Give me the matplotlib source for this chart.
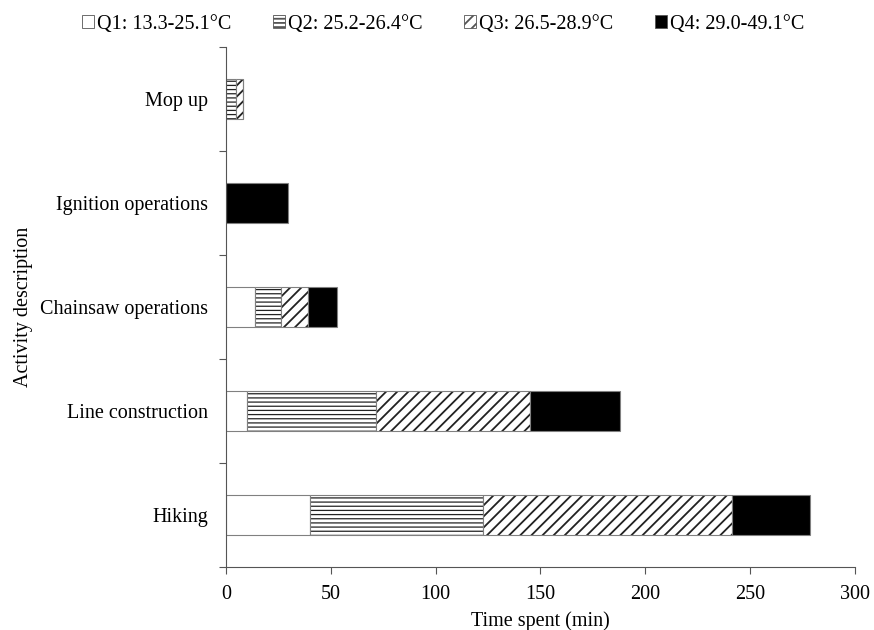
import numpy as np
import matplotlib.pyplot as plt
from matplotlib.patches import Patch

plt.rcParams["font.family"] = ["Liberation Serif", "DejaVu Serif"]
plt.rcParams["hatch.linewidth"] = 1.3

# time spent per activity in each temperature quartile (min)
activities = ["Hiking", "Line construction", "Chainsaw operations",
              "Ignition operations", "Mop up"]
q1 = [40.0, 10.0, 14.0, 0.0, 0.0]
q2 = [82.4, 61.4, 12.2, 0.0, 4.8]
q3 = [118.8, 73.6, 13.1, 0.0, 3.5]
q4 = [37.3, 42.9, 13.5, 29.7, 0.0]

labels = ["Q1: 13.3-25.1°C", "Q2: 25.2-26.4°C",
          "Q3: 26.5-28.9°C", "Q4: 29.0-49.1°C"]

fs = 14.5

fig = plt.figure(figsize=(8.74, 6.30), dpi=100)
ax = fig.add_axes([0.2586, 0.1, 0.7195, 0.825])

y = np.arange(len(activities))
h = 0.39
left = np.zeros(len(activities))

styles = [
    dict(color="white", hatch=None, hlw=1.0),
    dict(color="white", hatch="----", hlw=0.9),
    dict(color="white", hatch="///", hlw=1.3),
    dict(color="black", hatch=None, hlw=1.0),
]

handles = []
for vals, st, lab in zip([q1, q2, q3, q4], styles, labels):
    vals = np.array(vals)
    # fill + black hatch (hatch takes the edge colour)
    bars = ax.barh(y, vals, left=left, height=h, color=st["color"],
                   hatch=st["hatch"], edgecolor="#222222", linewidth=0)
    for b in bars:
        if hasattr(b, "set_hatch_linewidth"):
            b.set_hatch_linewidth(st["hlw"])
    # thin grey outline on top
    ax.barh(y, vals, left=left, height=h, fill=False,
            edgecolor="#808080", linewidth=0.8)
    left += vals
    handles.append(Patch(facecolor=st["color"], hatch=st["hatch"],
                         edgecolor="#555555", linewidth=0.6))

ax.set_xlim(0, 300)
ax.set_ylim(-0.5, len(activities) - 0.5)
ax.set_xticks([0, 50, 100, 150, 200, 250, 300])
ax.set_yticks(y)
ax.set_yticklabels(activities)
ax.set_yticks(np.arange(-0.5, len(activities)), minor=True)
ax.tick_params(axis="y", which="major", length=0, pad=13, labelsize=fs)
ax.tick_params(axis="y", which="minor", length=5, width=0.8, color="#555555")
ax.tick_params(axis="x", length=5, width=0.8, color="#555555", labelsize=fs,
               pad=8)

for s in ["top", "right"]:
    ax.spines[s].set_visible(False)
for s in ["left", "bottom"]:
    ax.spines[s].set_color("#555555")
    ax.spines[s].set_linewidth(0.8)

ax.set_xlabel("Time spent (min)", fontsize=fs, labelpad=5)
ax.set_ylabel("Activity description", fontsize=fs, labelpad=5)

fig.legend(handles, labels, loc="upper center", bbox_to_anchor=(0.507, 1.005),
           ncol=4, frameon=False, fontsize=fs, handlelength=0.6,
           handleheight=0.6, handletextpad=0.15, columnspacing=2.05)

fig.savefig("out.png", dpi=100)
